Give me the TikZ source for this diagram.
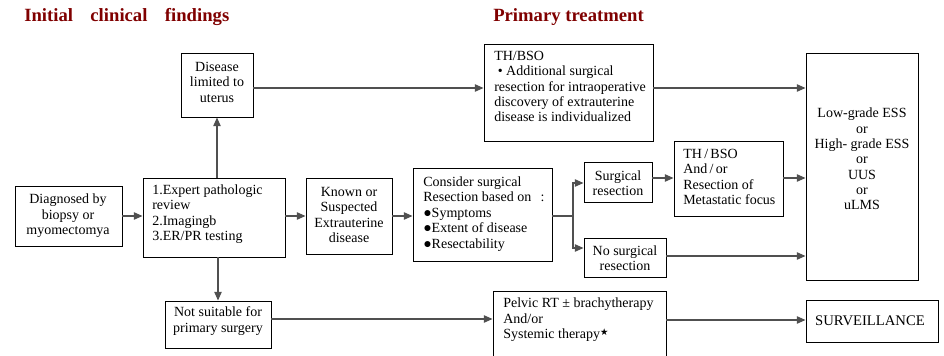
\documentclass[tikz,border=0pt]{standalone}
\usepackage{fontspec}
\setmainfont{Liberation Serif}
\newfontfamily\symfont{DejaVu Sans}
\usetikzlibrary{arrows.meta,fit}
\definecolor{headred}{RGB}{128,0,0}
\definecolor{linegray}{RGB}{80,80,80}
\begin{document}
\begin{tikzpicture}[x=0.75pt,y=-0.75pt,
  box/.style={draw=black, line width=0.7pt, inner sep=0pt},
  txt/.style={inner sep=0pt, font=\fontsize{10.5}{11.6}\selectfont},
  ctxt/.style={txt, align=center},
  ltxt/.style={txt, align=left, anchor=west},
  head/.style={inner sep=0pt, anchor=base west, text=headred,
    font=\fontsize{14}{16}\selectfont\bfseries},
  arr/.style={draw=linegray, line width=1pt, -{Triangle[length=6.5pt,width=5.5pt]}},
  wire/.style={draw=linegray, line width=1pt}]
\useasboundingbox (0,0) rectangle (944,356);
\clip (0,0) rectangle (944,356);
\fill[white] (0,0) rectangle (944,356);

% column headings
\node[head] (h1) at (24,22) {\makebox[153.75pt][s]{Initial clinical findings}};
\node[head] (h2) at (493,22) {Primary treatment};

% boxes
\node[box, fit={(15,186) (122,246)}]  (diag)  {};
\node[box, fit={(143,178) (285,257)}] (eval)  {};
\node[box, fit={(181,53) (253,117)}]  (uter)  {};
\node[box, fit={(484,44) (653,141)}]  (thbso) {};
\node[box, fit={(806,53) (918,280)}]  (types) {};
\node[box, fit={(306,178) (392,254)}] (extra) {};
\node[box, fit={(413,168) (552,261)}] (cons)  {};
\node[box, fit={(584,162) (652,202)}] (surg)  {};
\node[box, fit={(674,141) (783,216)}] (meta)  {};
\node[box, fit={(584,238) (666,277)}] (nosurg){};
\node[box, fit={(165,301) (271,348)}] (nots)  {};
\node[box, fit={(493,291) (666,366)}] (rt)    {};
\node[box, fit={(806,300) (938,342)}] (surv)  {};

% box texts
\node[ctxt] (diag-t) at (68,216) {Diagnosed by\\biopsy or\\myomectomya};
\node[ltxt] (eval-t) at (152,214) {1.Expert pathologic\\review\\2.Imagingb\\3.ER/PR testing};
\node[ctxt] (uter-t) at (217,82) {Disease\\limited to\\uterus};
\node[ltxt] (thbso-t) at (494,86.5) {TH/BSO\\\ \textbullet\ Additional surgical\\resection for intraoperative\\discovery of extrauterine\\disease is individualized};
\node[ctxt, font=\fontsize{10.5}{11.5}\selectfont] (types-t) at (862,159) {Low-grade ESS\\or\\High- grade ESS\\or\\UUS\\or\\uLMS};
\node[ctxt] (extra-t) at (349,215) {Known or\\Suspected\\Extrauterine\\disease};
\node[ltxt] (cons-t) at (423,214) {Consider surgical\\Resection based on\ \ \,:\\●Symptoms\\●Extent of disease\\●Resectability};
\node[ctxt] (surg-t) at (618,183) {Surgical\\resection};
\node[ltxt] (meta-t) at (683,177) {TH\,/\,BSO\\And\,/\,or\\Resection of\\Metastatic focus};
\node[ctxt] (nosurg-t) at (625,258) {No surgical\\resection};
\node[ctxt] (nots-t) at (218,321) {Not suitable for\\primary surgery};
\node[ltxt] (rt-t) at (503,320) {Pelvic RT ± brachytherapy\\And/or\\Systemic therapy\raisebox{0.55ex}{\symfont\fontsize{7}{7}\selectfont ★}};
\node[ctxt, font=\fontsize{11}{12}\selectfont] (surv-t) at (870,321) {SURVEILLANCE};

% connectors
\coordinate (split) at (573,216);
\draw[arr] (diag.east |- 0,216) -- (eval.west |- 0,216);
\draw[arr] (eval.east |- 0,216) -- (extra.west |- 0,216);
\draw[arr] (extra.east |- 0,216) -- (cons.west |- 0,216);
\draw[arr] (eval.north -| uter.south) -- (uter.south);
\draw[arr] (eval.south -| nots.north) -- (nots.north);
\draw[arr] (uter.east |- 0,88) -- (thbso.west |- 0,88);
\draw[arr] (thbso.east |- 0,88) -- (types.west |- 0,88);
\draw[wire] (cons.east |- split) -- (split);
\draw[arr] (split) |- (surg.west |- 0,183);
\draw[arr] (split) |- (nosurg.west |- 0,248);
\draw[arr] (surg.east |- 0,178) -- (meta.west |- 0,178);
\draw[arr] (meta.east |- 0,178) -- (types.west |- 0,178);
\draw[arr] (nosurg.east |- 0,256) -- (types.west |- 0,256);
\draw[arr] (nots.east |- 0,319) -- (rt.west |- 0,319);
\draw[arr] (rt.east |- 0,320) -- (surv.west |- 0,320);
\end{tikzpicture}
\end{document}
